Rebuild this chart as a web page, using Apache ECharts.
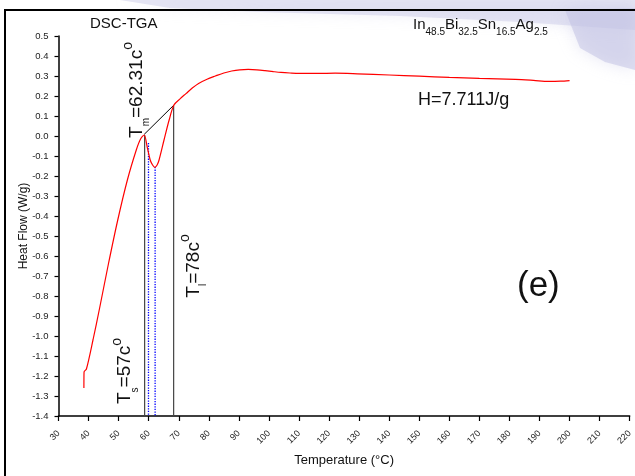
<!DOCTYPE html>
<html>
<head>
<meta charset="utf-8">
<script src="https://cdn.jsdelivr.net/npm/echarts@6/dist/echarts.min.js"></script>
<style>html,body{margin:0;padding:0;background:#fff}#c{width:635px;height:476px}</style>
</head>
<body>
<div id="c"></div>
<script>
// DSC curve: [Temperature (°C), Heat Flow (W/g)]
const dscCurve = [
  [38.45,-1.26],[38.5,-1.18],[39.29,-1.165],[41.47,-1.02],[43.68,-0.86],[46.6,-0.64],
  [49.71,-0.42],[52.91,-0.22],[55.87,-0.07],[57.3,-0.015],[58.5,0.005],[59.5,-0.055],
  [60.5,-0.12],[61.3,-0.145],[62.04,-0.157],[62.8,-0.145],[63.45,-0.12],[65.1,-0.02],
  [66.8,0.08],[68.4,0.155],[70.5,0.187],[72.4,0.212],[74.5,0.24],[76.6,0.263],
  [79.4,0.284],[82.2,0.30],[85,0.315],[87.6,0.325],[90.3,0.331],[93.1,0.333],
  [96,0.331],[98.7,0.327],[101.5,0.322],[104,0.318],[107,0.315],[110,0.313],
  [116.2,0.313],[122,0.314],[129.4,0.311],[140,0.305],[150,0.299],[160,0.293],
  [170,0.288],[182,0.283],[188,0.278],[193,0.273],[197,0.274],[200,0.277]
];
const solidusLine  = [[58.65,0.005],[58.65,-1.4]];
const liquidusLine = [[68.3,0.152],[68.3,-1.4]];
const tangentLine  = [[58.5,0.008],[68.4,0.155]];
const peakLineA    = [[59.93,-0.035],[59.93,-1.4]];
const peakLineB    = [[62.14,-0.155],[62.14,-1.4]];
const xRange = [30, 220, 10];
const yRange = [-1.4, 0.5, 0.1];

const FONT = 'Liberation Sans, Arial, sans-serif';
const chart = echarts.init(document.getElementById('c'), null, {renderer:'canvas'});
const lineSeries = (data, color, type, width) => ({
  type:'line', data, showSymbol:false, symbol:'none', silent:true,
  lineStyle:{color, width, type}, z:3
});
chart.setOption({
  animation:false,
  backgroundColor:'#fff',
  grid:{left:58.5, right:0, top:36, bottom:60, containLabel:false},
  xAxis:{
    type:'value', min:xRange[0], max:xRange[1], interval:xRange[2],
    name:'Temperature (°C)', nameLocation:'middle', nameGap:38, nameMoveOverlap:false,
    nameTextStyle:{fontFamily:FONT, fontSize:13, color:'#111'},
    axisLine:{onZero:false, lineStyle:{color:'#000', width:1.5}},
    axisTick:{length:5, lineStyle:{color:'#000', width:1.2}},
    axisLabel:{rotate:45, margin:16, fontFamily:FONT, fontSize:9, color:'#222'},
    splitLine:{show:false}
  },
  yAxis:{
    type:'value', min:yRange[0], max:yRange[1], interval:yRange[2],
    name:'Heat Flow (W/g)', nameLocation:'middle', nameGap:29, nameMoveOverlap:false,
    nameTextStyle:{fontFamily:FONT, fontSize:12, color:'#111'},
    axisLine:{onZero:false, lineStyle:{color:'#000', width:1.5}},
    axisTick:{length:4, lineStyle:{color:'#000', width:1.2}},
    axisLabel:{margin:10, fontFamily:FONT, fontSize:9.5, color:'#222',
      formatter:v=>(Math.abs(v)<1e-9?0:v).toFixed(1)},
    splitLine:{show:false}
  },
  series:[
    {type:'line', data:dscCurve, showSymbol:false, symbol:'none', smooth:0.3,
     lineStyle:{color:'#ff0000', width:1.2}, z:4},
    lineSeries(solidusLine,'#444','solid',1.2),
    lineSeries(liquidusLine,'#444','solid',1.2),
    lineSeries(tangentLine,'#000','solid',1),
    lineSeries(peakLineA,'#0000ff','dotted',1.3),
    lineSeries(peakLineB,'#0000ff','dotted',1.3)
  ],
  graphic:[
    {type:'polygon', z:-10, silent:true,
     shape:{points:[[120,0],[635,0],[635,30],[520,22],[400,16],[260,12],[170,8]]},
     style:{fill:'rgba(200,200,230,0.45)', shadowBlur:14, shadowColor:'rgba(200,200,230,0.6)'}},
    {type:'polygon', z:-10, silent:true,
     shape:{points:[[565,10],[635,8],[635,70],[605,62],[580,48]]},
     style:{fill:'rgba(195,195,228,0.55)', shadowBlur:16, shadowColor:'rgba(195,195,228,0.7)'}},
    {type:'polyline', z:-5, silent:true,
     shape:{points:[[5,480],[5,10],[640,10]]},
     style:{stroke:'#000', lineWidth:2, fill:null}},
    {type:'text', x:90, y:24, style:{text:'DSC-TGA', font:'15px '+FONT, fill:'#111', align:'left', verticalAlign:'middle'}},
    {type:'text', x:413, y:24.7, style:{
      text:'{a|In}{s|48.5}{a|Bi}{s|32.5}{a|Sn}{s|16.5}{a|Ag}{s|2.5}',
      align:'left', verticalAlign:'middle',
      rich:{a:{fontSize:15, lineHeight:26, fontFamily:FONT, fill:'#111'},
            s:{fontSize:10, lineHeight:10, verticalAlign:'bottom', fontFamily:FONT, fill:'#111'}}}},
    {type:'text', x:418, y:100, style:{text:'H=7.711J/g', font:'18px '+FONT, fill:'#111', align:'left', verticalAlign:'middle'}},
    {type:'text', x:517, y:286, style:{text:'(e)', font:'35px '+FONT, fill:'#111', align:'left', verticalAlign:'middle'}},
    {type:'text', x:136.4, y:90, rotation:Math.PI/2, style:{
      text:'{a|T}{s|m}{a|=62.31c}{p|o}', align:'center', verticalAlign:'middle',
      rich:{a:{fontSize:19, lineHeight:30, fontFamily:FONT, fill:'#111'},
            s:{fontSize:10, lineHeight:10, verticalAlign:'bottom', fontFamily:FONT, fill:'#111'},
            p:{fontSize:14, lineHeight:24, verticalAlign:'top', fontFamily:FONT, fill:'#111'}}}},
    {type:'text', x:125, y:371, rotation:Math.PI/2, style:{
      text:'{a|T}{s|s}{a|=57c}{p|o}', align:'center', verticalAlign:'middle',
      rich:{a:{fontSize:19, lineHeight:30, fontFamily:FONT, fill:'#111'},
            s:{fontSize:10, lineHeight:10, verticalAlign:'bottom', fontFamily:FONT, fill:'#111'},
            p:{fontSize:14, lineHeight:24, verticalAlign:'top', fontFamily:FONT, fill:'#111'}}}},
    {type:'text', x:193.4, y:266, rotation:Math.PI/2, style:{
      text:'{a|T}{s|l}{a|=78c}{p|o}', align:'center', verticalAlign:'middle',
      rich:{a:{fontSize:19, lineHeight:30, fontFamily:FONT, fill:'#111'},
            s:{fontSize:10, lineHeight:10, verticalAlign:'bottom', fontFamily:FONT, fill:'#111'},
            p:{fontSize:14, lineHeight:24, verticalAlign:'top', fontFamily:FONT, fill:'#111'}}}}
  ]
});
</script>
</body>
</html>
